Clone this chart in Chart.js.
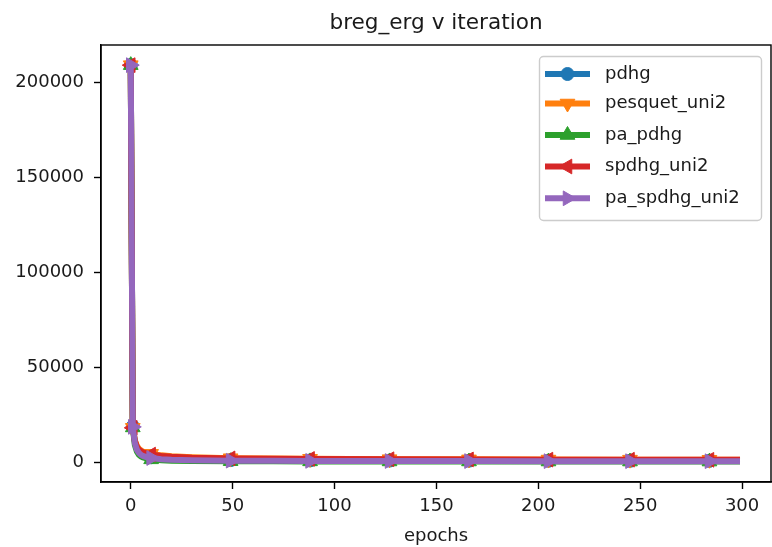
<!DOCTYPE html>
<html><head><meta charset="utf-8">
<script src="https://cdn.jsdelivr.net/npm/chart.js@4.4.0/dist/chart.umd.min.js"></script>
<style>html,body{margin:0;padding:0;background:#fff}#wrap{width:772px;height:547px;position:relative}</style>
</head><body><div id="wrap"><canvas id="c" width="772" height="547"></canvas></div>
<script>
const chartTitle = 'breg_erg v iteration';
const xLabel = 'epochs';
const seriesNames = ['pdhg', 'pesquet_uni2', 'pa_pdhg', 'spdhg_uni2', 'pa_spdhg_uni2'];
const epochs = [0, 1, 2, 3, 4, 5, 6, 8, 10, 15, 20, 30, 49, 70, 88, 127, 166, 205, 245, 284, 299];
const markerEpochs = [0, 1, 10, 49, 88, 127, 166, 205, 245, 284];
const pdhg        = [209000, 18800, 11000, 7500, 5600, 4500, 3800, 3000, 2500, 1900, 1600, 1300, 1000, 900, 850, 750, 700, 650, 620, 600, 590];
const pesquetUni2 = [209000, 18000, 11500, 8500, 7000, 6100, 5500, 4800, 4300, 3500, 3000, 2500, 2000, 1800, 1700, 1500, 1400, 1300, 1250, 1200, 1180];
const paPdhg      = [209000, 18200, 9000, 5500, 3800, 2900, 2400, 1800, 1400, 900, 700, 500, 400, 350, 320, 290, 270, 250, 240, 230, 230];
const spdhgUni2   = [209000, 18000, 11000, 8000, 6500, 5700, 5100, 4400, 3900, 3200, 2800, 2300, 1900, 1700, 1600, 1450, 1350, 1250, 1200, 1150, 1130];
const paSpdhgUni2 = [209000, 18500, 10000, 6500, 4800, 3800, 3200, 2500, 2100, 1500, 1200, 900, 700, 620, 580, 520, 480, 450, 430, 420, 410];
const xTicks = [0, 50, 100, 150, 200, 250, 300];
const yTicks = [0, 50000, 100000, 150000, 200000];

const colors = ['#1f77b4', '#ff7f0e', '#2ca02c', '#d62728', '#9467bd'];
const styles = [
  {pointStyle: 'circle', rotation: 0, r: 6.5},
  {pointStyle: 'triangle', rotation: 180, r: 8.5},
  {pointStyle: 'triangle', rotation: 0, r: 8.5},
  {pointStyle: 'triangle', rotation: 270, r: 8.5},
  {pointStyle: 'triangle', rotation: 90, r: 8.5}
];
const allSeries = [pdhg, pesquetUni2, paPdhg, spdhgUni2, paSpdhgUni2];
const FONT = 'DejaVu Sans';
const TXT = '#1a1a1a';

const datasets = allSeries.map((arr, k) => ({
  label: seriesNames[k],
  data: epochs.map((x, i) => ({x: x, y: arr[i]})),
  borderColor: colors[k],
  backgroundColor: colors[k],
  pointBackgroundColor: colors[k],
  pointBorderColor: colors[k],
  borderWidth: 6,
  pointStyle: styles[k].pointStyle,
  rotation: styles[k].rotation,
  pointBorderWidth: 1,
  pointRadius: ctx => markerEpochs.includes(epochs[ctx.dataIndex]) ? styles[k].r : 0,
  pointHoverRadius: 0,
  tension: 0,
  fill: false,
  order: allSeries.length - k
}));

const deco = {
  id: 'deco',
  afterDraw(chart) {
    const ctx = chart.ctx, a = chart.chartArea;
    ctx.save();
    ctx.strokeStyle = '#000';
    ctx.lineWidth = 1.4;
    ctx.strokeRect(a.left, a.top, a.right - a.left, a.bottom - a.top);
    ctx.fillStyle = TXT;
    ctx.font = '21.6px "' + FONT + '"';
    ctx.textAlign = 'center';
    ctx.textBaseline = 'alphabetic';
    ctx.fillText(chartTitle, (a.left + a.right) / 2, 29);
    const lx = 539.5, ly = 56.5, lw = 222, lh = 164;
    ctx.globalAlpha = 0.8;
    ctx.fillStyle = '#fff';
    ctx.beginPath();
    ctx.roundRect(lx, ly, lw, lh, 4);
    ctx.fill();
    ctx.globalAlpha = 1;
    ctx.strokeStyle = '#cccccc';
    ctx.lineWidth = 1.4;
    ctx.stroke();
    const rows = [74, 103.5, 135, 166.5, 198.3];
    seriesNames.forEach((name, k) => {
      const y = rows[k];
      ctx.strokeStyle = colors[k];
      ctx.lineWidth = 6;
      ctx.beginPath();
      ctx.moveTo(545, y);
      ctx.lineTo(590, y);
      ctx.stroke();
      ctx.fillStyle = colors[k];
      ctx.strokeStyle = colors[k];
      ctx.lineWidth = 1;
      Chart.helpers.drawPoint(ctx, {pointStyle: styles[k].pointStyle, rotation: styles[k].rotation, radius: styles[k].r, borderWidth: 1}, 567.5, y);
      ctx.fillStyle = TXT;
      ctx.font = '18px "' + FONT + '"';
      ctx.textAlign = 'left';
      ctx.textBaseline = 'middle';
      ctx.fillText(name, 605, y);
    });
    ctx.restore();
  }
};

new Chart(document.getElementById('c'), {
  type: 'line',
  data: {datasets: datasets},
  options: {
    responsive: false,
    animation: false,
    devicePixelRatio: 1,
    layout: {autoPadding: false, padding: {left: 0, right: 1, top: 45, bottom: 0}},
    plugins: {legend: {display: false}, tooltip: {enabled: false}, title: {display: false}},
    scales: {
      x: {
        type: 'linear',
        min: -14.6,
        max: 314.2,
        afterBuildTicks: s => { s.ticks = xTicks.map(v => ({value: v})); },
        afterFit: s => { s.height = 65; s.paddingLeft = 0; s.paddingRight = 0; },
        ticks: {font: {family: FONT, size: 18}, color: TXT, padding: 7, maxRotation: 0, autoSkip: false, callback: v => String(v)},
        grid: {drawOnChartArea: false, tickLength: 7, tickWidth: 1.4, tickColor: '#000'},
        border: {display: true, color: '#000', width: 1.4},
        title: {display: true, text: xLabel, font: {family: FONT, size: 18}, color: TXT, padding: {top: 0, bottom: 0}}
      },
      y: {
        type: 'linear',
        min: -10530,
        max: 219600,
        afterBuildTicks: s => { s.ticks = yTicks.map(v => ({value: v})); },
        afterFit: s => { s.width = 101; s.paddingTop = 0; s.paddingBottom = 0; },
        ticks: {font: {family: FONT, size: 18}, color: TXT, padding: 10, autoSkip: false, callback: v => String(v)},
        grid: {drawOnChartArea: false, tickLength: 7, tickWidth: 1.4, tickColor: '#000'},
        border: {display: true, color: '#000', width: 1.4}
      }
    }
  },
  plugins: [deco]
});
</script></body></html>
